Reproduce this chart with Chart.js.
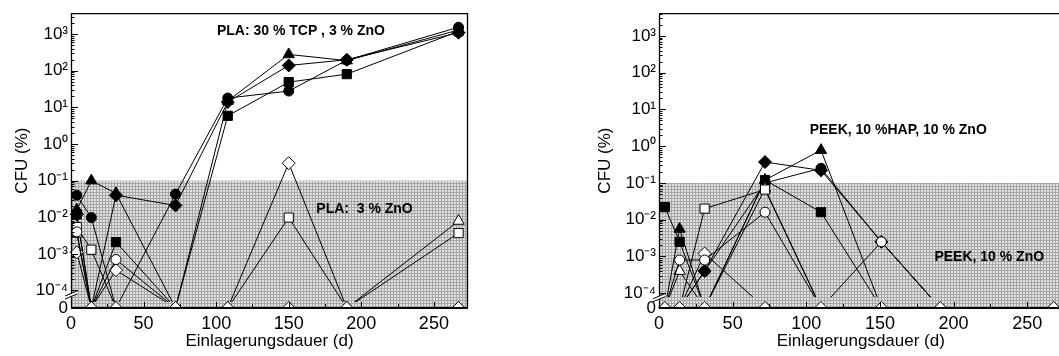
<!DOCTYPE html>
<html><head><meta charset="utf-8">
<script src="https://cdn.jsdelivr.net/npm/chart.js@4.4.1/dist/chart.umd.min.js"></script>
<style>
html,body{margin:0;padding:0;background:#fff;overflow:hidden;}
#wrap{position:relative;width:1059px;height:356px;overflow:hidden;background:#fff;}
canvas{position:absolute;top:0;}
#c1{left:0;}
#c2{left:590px;}
</style></head>
<body><div id="wrap">
<canvas id="c1" width="530" height="356"></canvas>
<canvas id="c2" width="480" height="356"></canvas>
</div>
<script>
// ---------- DATA ----------
const plaDays  = [4, 14, 31, 72, 108, 150, 190, 267];
const peekDays = [4, 14, 31, 72, 110, 151, 191, 268];

// PLA: 30 % TCP , 3 % ZnO (filled symbols), CFU (%) ; 0 = no growth
const plaTcpCircle   = [0.04, 0.0098, 0, 0.043, 18, 28, 195, 1550];
const plaTcpSquare   = [0.012, 0, 0.0021, 0, 5.9, 49, 81, 1200];
const plaTcpTriangle = [0.016, 0.1, 0.045, 0, 15, 280, 190, 1300];
const plaTcpDiamond  = [0.012, 0, 0.04, 0.021, 14, 140, 200, 1100];
// PLA: 3 % ZnO (open symbols)
const plaZnoCircle   = [0.004, 0, 0.0007, 0, 0, 0, 0, 0];
const plaZnoSquare   = [0.0054, 0.0013, 0, 0, 0, 0.0098, 0, 0.0037];
const plaZnoTriangle = [0.0035, 0, 0, 0, 0, 0, 0, 0.0079];
const plaZnoDiamond  = [0.0011, 0, 0.00036, 0, 0, 0.3, 0, 0];

// PEEK, 10 %HAP, 10 % ZnO (filled symbols)
const peekHapSquare   = [0.022, 0.0025, 0, 0.12, 0.016, 0, 0, 0];
const peekHapTriangle = [0, 0.0056, 0, 0.12, 0.78, 0, 0, 0];
const peekHapDiamond  = [0, 0, 0.0004, 0.37, 0.22, 0.0025, 0, 0];
const peekHapCircle   = [0, 0, 0.0004, 0.1, 0.25, 0.0025, 0, 0];
// PEEK, 10 % ZnO (open symbols)
const peekZnoSquare   = [0, 0, 0.02, 0.066, 0, 0, 0, 0];
const peekZnoCircle   = [0, 0.0008, 0.0008, 0.016, 0, 0.0025, 0, 0];
const peekZnoTriangle = [0, 0.0004, 0, 0.07, 0, 0, 0, 0];
const peekZnoDiamond  = [0, 0, 0.0012, 0, 0, 0, 0, 0];

const xTickValues = [0, 50, 100, 150, 200, 250];
const yTickExponents = [-4, -3, -2, -1, 0, 1, 2, 3];
const zeroLabel = '0';
const xTitle = 'Einlagerungsdauer (d)';
const yTitle = 'CFU (%)';
const shadeLimit = 0.1;

const plaNotes  = [{text: 'PLA: 30 % TCP , 3 % ZnO', x: 100.5, y: 1200},
                   {text: 'PLA:  3 % ZnO', x: 169, y: 0.0166}];
const peekNotes = [{text: 'PEEK, 10 %HAP, 10 % ZnO', x: 102.3, y: 2.7},
                   {text: 'PEEK, 10 % ZnO', x: 187, y: 0.00093}];

// ---------- HELPERS ----------
const FONT = '"Liberation Sans", Arial, Helvetica, sans-serif';
const SUP = {'-':'\u207B','0':'\u2070','1':'\u00B9','2':'\u00B2','3':'\u00B3','4':'\u2074','5':'\u2075','6':'\u2076','7':'\u2077','8':'\u2078','9':'\u2079'};
function supText(n){ return String(n).split('').map(c => SUP[c]).join(''); }

const pattern = (function(){
  const p = document.createElement('canvas'); p.width = 3; p.height = 3;
  const c = p.getContext('2d');
  c.fillStyle = '#e2e2e2'; c.fillRect(0,0,3,3);
  c.fillStyle = '#a6a6a6'; c.fillRect(0,0,3,1); c.fillRect(0,0,1,3);
  return c.createPattern(p, 'repeat');
})();

const RADIUS = {circle: 5, rect: 6.5, triangle: 6.5, rectRot: 6.5};

function makeSeries(days, vals, style, filled, yZero, clipBottom, order) {
  return {
    data: days.map((d, i) => ({x: d, y: vals[i] === 0 ? yZero : vals[i]})),
    showLine: true, fill: false, tension: 0,
    borderColor: '#000', borderWidth: 1,
    pointStyle: style, pointRadius: RADIUS[style],
    pointBackgroundColor: filled ? '#000' : '#fff',
    pointBorderColor: '#000', pointBorderWidth: 1,
    clip: {left: 10, top: 10, right: 10, bottom: clipBottom},
    order: order
  };
}

function zeroMarkers(days, allSeries, yZero) {
  const pts = [];
  days.forEach((d, i) => { if (allSeries.some(s => s[i] === 0)) pts.push({x: d, y: yZero}); });
  return {
    data: pts, showLine: false, pointStyle: 'rectRot', pointRadius: 6.5,
    pointBackgroundColor: '#fff', pointBorderColor: '#000', pointBorderWidth: 1,
    borderColor: '#000', clip: {left: 10, top: 10, right: 10, bottom: 0}, order: -1
  };
}

function decorPlugin(notes, drawRight) {
  return {
    id: 'decor',
    beforeDatasetsDraw(chart) {
      const {ctx, chartArea: a, scales: {y}} = chart;
      const yt = y.getPixelForValue(shadeLimit);
      ctx.save();
      ctx.fillStyle = pattern;
      ctx.fillRect(a.left, yt, a.right - a.left, a.bottom - yt);
      ctx.restore();
    },
    afterDatasetsDraw(chart) {
      const {ctx, chartArea: a, scales: {x, y}} = chart;
      ctx.save();
      ctx.strokeStyle = '#000';
      // frame
      ctx.lineWidth = 1.3;
      ctx.beginPath();
      ctx.moveTo(a.left + 0.5, a.bottom);
      ctx.lineTo(a.left + 0.5, a.top + 0.5);
      ctx.lineTo(a.right - 0.5, a.top + 0.5);
      if (drawRight) ctx.lineTo(a.right - 0.5, a.bottom);
      ctx.stroke();
      ctx.lineWidth = 2;
      ctx.beginPath(); ctx.moveTo(a.left, a.bottom); ctx.lineTo(a.right, a.bottom); ctx.stroke();
      // inward y ticks (decades + minor)
      ctx.lineWidth = 1;
      for (const e of yTickExponents) {
        for (let k = 1; k <= 9; k++) {
          const v = k * Math.pow(10, e);
          if (v > y.max) continue;
          const py = Math.round(y.getPixelForValue(v)) + 0.5;
          const len = k === 1 ? 7 : 3.5;
          ctx.beginPath(); ctx.moveTo(a.left, py); ctx.lineTo(a.left + len, py); ctx.stroke();
        }
      }
      // inward x ticks
      for (let v = 0; v <= x.max; v += 25) {
        const px = Math.round(x.getPixelForValue(v)) + 0.5;
        const len = v % 50 === 0 ? 6 : 4;
        ctx.beginPath(); ctx.moveTo(px, a.bottom); ctx.lineTo(px, a.bottom - len); ctx.stroke();
      }
      // axis break marks between 10^-4 and 0
      const c = y.getPixelForValue(1e-4) + 4;
      ctx.fillStyle = '#fff';
      ctx.beginPath();
      ctx.moveTo(a.left - 6, c + 1.5); ctx.lineTo(a.left + 6, c - 3.5);
      ctx.lineTo(a.left + 6, c - 0.5); ctx.lineTo(a.left - 6, c + 4.5); ctx.closePath();
      ctx.fill();
      ctx.lineWidth = 1;
      ctx.beginPath(); ctx.moveTo(a.left - 6, c + 1.5); ctx.lineTo(a.left + 6, c - 3.5); ctx.stroke();
      ctx.beginPath(); ctx.moveTo(a.left - 6, c + 4.5); ctx.lineTo(a.left + 6, c - 0.5); ctx.stroke();
      // annotations
      ctx.fillStyle = '#000';
      ctx.font = 'bold 14px ' + FONT;
      ctx.textAlign = 'left'; ctx.textBaseline = 'middle';
      for (const n of notes) ctx.fillText(n.text, x.getPixelForValue(n.x), y.getPixelForValue(n.y));
      ctx.restore();
    }
  };
}

function buildChart(id, opt) {
  const yMin = Math.pow(10, opt.logMin), yMax = Math.pow(10, opt.logMax);
  const ds = [zeroMarkers(opt.days, opt.series.map(s => s.vals), yMin)];
  opt.series.forEach((s, i) => ds.push(makeSeries(opt.days, s.vals, s.style, s.filled, yMin, opt.clipBottom, s.filled ? 10 + i : i)));
  return new Chart(document.getElementById(id), {
    type: 'line',
    data: {datasets: ds},
    plugins: [decorPlugin(opt.notes, opt.drawRight)],
    options: {
      responsive: false, animation: false, events: [],
      layout: {padding: {top: opt.top, right: opt.padRight, bottom: 0, left: 0}},
      plugins: {legend: {display: false}, tooltip: {enabled: false}},
      scales: {
        x: {
          type: 'linear', min: 0, max: opt.xMax,
          afterBuildTicks: s => { s.ticks = xTickValues.map(v => ({value: v})); },
          afterFit: s => { s.height = 48; },
          grid: {display: false, drawTicks: false}, border: {display: false},
          ticks: {color: '#000', font: {family: FONT, size: 18}, padding: 5, maxRotation: 0, autoSkip: false},
          title: {display: true, text: xTitle, color: '#000', font: {family: FONT, size: 17}, padding: {top: 0, bottom: 4}}
        },
        y: {
          type: 'logarithmic', min: yMin, max: yMax,
          afterBuildTicks: s => { s.ticks = [yMin].concat(yTickExponents.map(e => Math.pow(10, e))).map(v => ({value: v})); },
          afterFit: s => { s.width = opt.yWidth; },
          grid: {display: false, drawTicks: false}, border: {display: false},
          ticks: {
            color: '#000', font: {family: FONT, size: 17}, padding: 3, autoSkip: false,
            callback: v => (Math.abs(v - yMin) < yMin * 1e-6) ? zeroLabel : '10' + supText(Math.round(Math.log10(v)))
          },
          title: {display: true, text: yTitle, color: '#000', font: {family: FONT, size: 17}, padding: {top: opt.titlePad, bottom: 0}}
        }
      }
    }
  });
}

buildChart('c1', {
  days: plaDays, logMin: -4.478, logMax: 3.573, xMax: 273.5, top: 13, padRight: 62, yWidth: 71,
  clipBottom: -6, titlePad: 12, drawRight: true, notes: plaNotes,
  series: [
    {vals: plaZnoCircle, style: 'circle', filled: false},
    {vals: plaZnoSquare, style: 'rect', filled: false},
    {vals: plaZnoTriangle, style: 'triangle', filled: false},
    {vals: plaZnoDiamond, style: 'rectRot', filled: false},
    {vals: plaTcpCircle, style: 'circle', filled: true},
    {vals: plaTcpSquare, style: 'rect', filled: true},
    {vals: plaTcpTriangle, style: 'triangle', filled: true},
    {vals: plaTcpDiamond, style: 'rectRot', filled: true}
  ]
});

buildChart('c2', {
  days: peekDays, logMin: -4.402, logMax: 3.617, xMax: 274, top: 9, padRight: 6.6, yWidth: 69,
  clipBottom: -11, titlePad: 5, drawRight: true, notes: peekNotes,
  series: [
    {vals: peekZnoCircle, style: 'circle', filled: false},
    {vals: peekZnoSquare, style: 'rect', filled: false},
    {vals: peekZnoTriangle, style: 'triangle', filled: false},
    {vals: peekZnoDiamond, style: 'rectRot', filled: false},
    {vals: peekHapCircle, style: 'circle', filled: true},
    {vals: peekHapSquare, style: 'rect', filled: true},
    {vals: peekHapTriangle, style: 'triangle', filled: true},
    {vals: peekHapDiamond, style: 'rectRot', filled: true}
  ]
});
</script>
</body></html>
